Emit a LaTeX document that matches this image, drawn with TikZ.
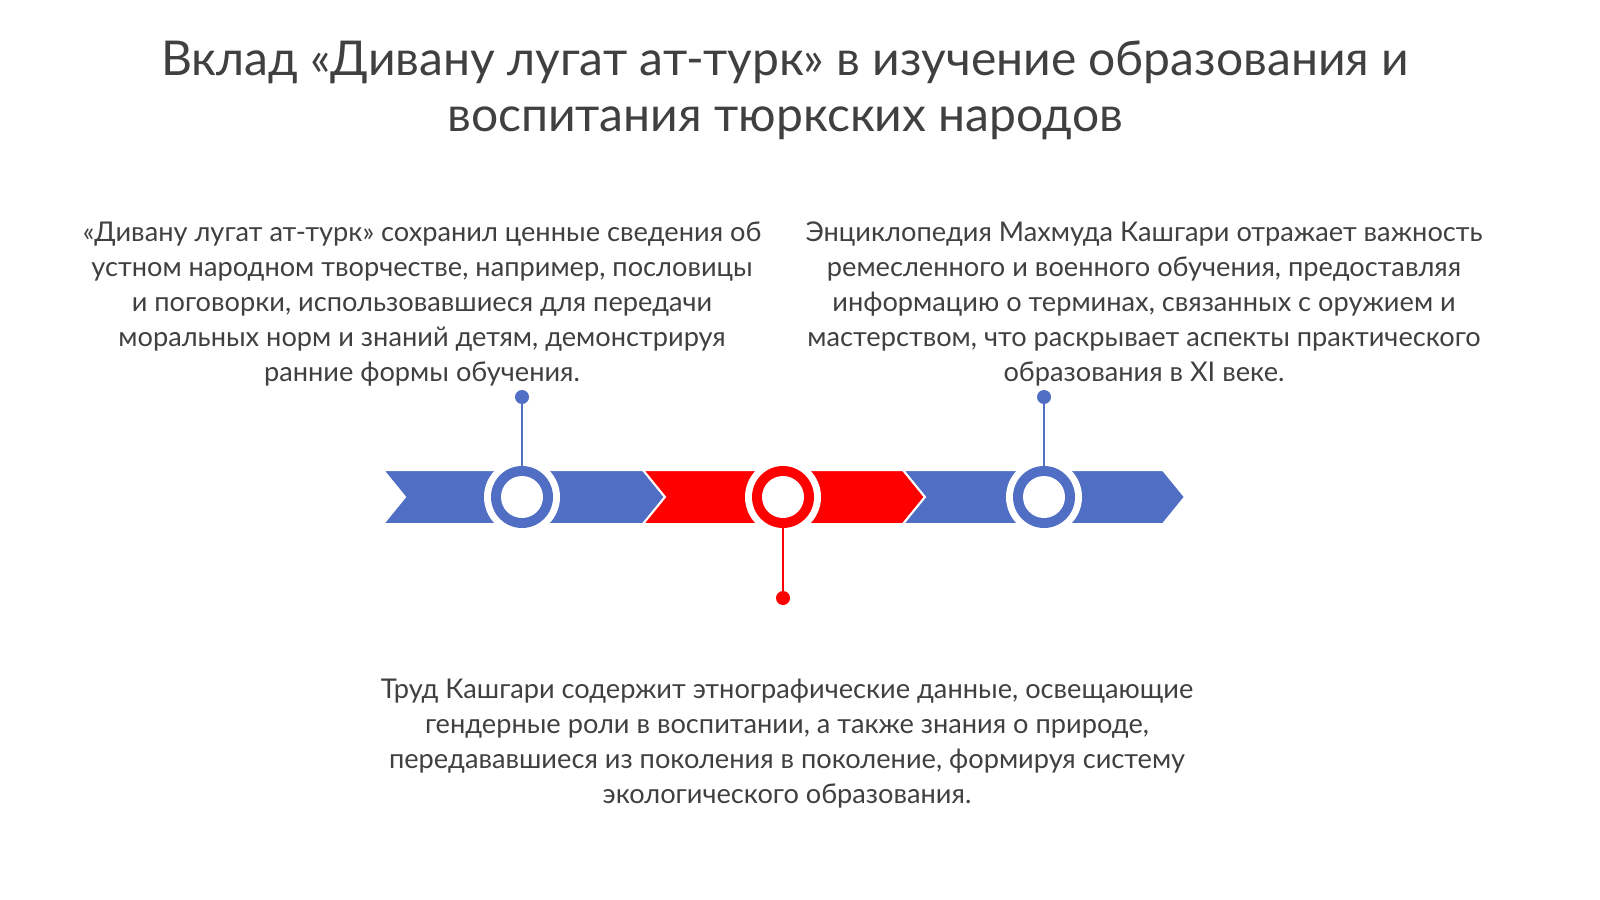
\documentclass[tikz,border=0pt]{standalone}
\usepackage{fontspec}
\setmainfont{Lato}
\begin{document}
\begin{tikzpicture}[x=0.5pt,y=-0.5pt,
  txt/.style={text=black!75,align=center,font=\fontsize{13.6pt}{17.5pt}\selectfont,inner sep=0},
  chev/.style={draw=white,line width=1pt},
  pin/.style={line width=1.2pt}]
\definecolor{bl}{HTML}{4F6EC4}
\definecolor{rd}{HTML}{FF0000}
\useasboundingbox (0,0) rectangle (1600,899);
\fill[white] (0,0) rectangle (1600,899);
\node[txt,font=\fontsize{24pt}{28pt}\selectfont] (title) at (785,90) {Вклад «Дивану лугат ат-турк» в изучение образования и\\воспитания тюркских народов};
\node[txt] (tl) at (422,304) {«Дивану лугат ат-турк» сохранил ценные сведения об\\устном народном творчестве, например, пословицы\\и поговорки, использовавшиеся для передачи\\моральных норм и знаний детям, демонстрируя\\ранние формы обучения.};
\node[txt] (tr) at (1144,304) {Энциклопедия Махмуда Кашгари отражает важность\\ремесленного и военного обучения, предоставляя\\информацию о терминах, связанных с оружием и\\мастерством, что раскрывает аспекты практического\\образования в XI веке.};
\node[txt] (tb) at (787,744) {Труд Кашгари содержит этнографические данные, освещающие\\гендерные роли в воспитании, а также знания о природе,\\передававшиеся из поколения в поколение, формируя систему\\экологического образования.};
\foreach \x/\c in {383/bl,643/rd,903/bl}{
  \filldraw[chev,fill=\c] (\x,470) -- (\x+260,470) -- (\x+282,497) -- (\x+260,524) -- (\x,524) -- (\x+22,497) -- cycle;
}
\foreach \n/\x/\c in {a/522/bl,b/783/rd,c/1044/bl}{
  \fill[white] (\x,497) circle (38);
  \fill[\c] (\x,497) circle (31);
  \node[circle,fill=white,minimum size=21pt,inner sep=0] (\n) at (\x,497) {};
}
\node[circle,fill=bl,minimum size=7pt,inner sep=0] (da) at (522,397) {};
\node[circle,fill=bl,minimum size=7pt,inner sep=0] (dc) at (1044,397) {};
\node[circle,fill=rd,minimum size=7pt,inner sep=0] (db) at (783,598) {};
\draw[pin,bl] (da) -- (522,466);
\draw[pin,bl] (dc) -- (1044,466);
\draw[pin,rd] (db) -- (783,528);
\end{tikzpicture}
\end{document}
